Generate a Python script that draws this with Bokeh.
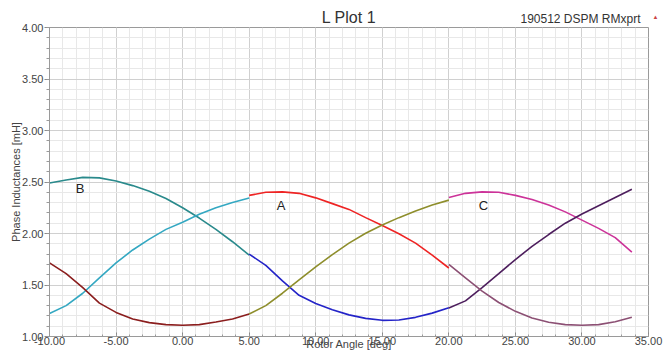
from bokeh.plotting import figure
from bokeh.models import NumeralTickFormatter, Label, Range1d, SingleIntervalTicker
from bokeh.embed import file_html
from bokeh.resources import INLINE

FONT = "Liberation Sans"

# Rotor angle samples for the three electrical segments
angle_seg1 = [-10.0, -8.75, -7.5, -6.25, -5.0, -3.75, -2.5, -1.25, 0.0, 1.25, 2.5, 3.75, 5.0]
angle_seg2 = [5.0, 6.25, 7.5, 8.75, 10.0, 11.25, 12.5, 13.75, 15.0, 16.25, 17.5, 18.75, 20.0]
angle_seg3 = [20.0, 21.25, 22.5, 23.75, 25.0, 26.25, 27.5, 28.75, 30.0, 31.25, 32.5, 33.75]

# Phase inductances [mH], one list per traced segment
teal_seg1 = [2.49, 2.52, 2.545, 2.54, 2.51, 2.465, 2.41, 2.34, 2.25, 2.15, 2.04, 1.92, 1.79]
cyan_seg1 = [1.224, 1.30, 1.42, 1.57, 1.715, 1.84, 1.945, 2.04, 2.11, 2.186, 2.25, 2.30, 2.345]
maroon_seg1 = [1.715, 1.61, 1.475, 1.324, 1.234, 1.17, 1.135, 1.115, 1.109, 1.115, 1.14, 1.17, 1.218]

red_seg2 = [2.37, 2.40, 2.404, 2.39, 2.346, 2.29, 2.234, 2.154, 2.077, 1.997, 1.907, 1.79, 1.665]
blue_seg2 = [1.80, 1.69, 1.54, 1.40, 1.32, 1.26, 1.21, 1.176, 1.157, 1.16, 1.186, 1.227, 1.28]
olive_seg2 = [1.218, 1.30, 1.42, 1.55, 1.676, 1.795, 1.907, 2.003, 2.083, 2.154, 2.218, 2.276, 2.324]

magenta_seg3 = [2.35, 2.39, 2.404, 2.40, 2.37, 2.33, 2.276, 2.21, 2.13, 2.05, 1.96, 1.82]
purple_seg3 = [1.276, 1.346, 1.475, 1.61, 1.747, 1.875, 1.99, 2.10, 2.19, 2.27, 2.35, 2.43]
mauve_seg3 = [1.70, 1.57, 1.44, 1.33, 1.244, 1.18, 1.138, 1.115, 1.109, 1.115, 1.144, 1.186]

# Curve name tags
tag_names = ["B", "A", "C"]
tag_x = [-7.7, 7.4, 22.6]
tag_y = [2.44, 2.275, 2.275]

p = figure(width=665, height=352, output_backend="svg", toolbar_location=None,
           x_range=Range1d(-10, 35), y_range=Range1d(1, 4),
           min_border_left=49, min_border_right=17, min_border_top=27,
           min_border_bottom=12, background_fill_color="white",
           border_fill_color="white")

p.outline_line_color = "#9a9a9a"
p.outline_line_width = 1

xt = SingleIntervalTicker(interval=5, num_minor_ticks=5)
yt = SingleIntervalTicker(interval=0.5, num_minor_ticks=5)
p.xaxis.ticker = xt
p.yaxis.ticker = yt
p.xgrid.ticker = xt
p.ygrid.ticker = yt
for g in (p.xgrid, p.ygrid):
    g.grid_line_color = "#d0d0d0"
    g.grid_line_width = 1
    g.minor_grid_line_color = "#e8e8e8"
    g.minor_grid_line_width = 1

for ax in (p.xaxis, p.yaxis):
    ax.formatter = NumeralTickFormatter(format="0.00")
    ax.axis_line_color = "#9a9a9a"
    ax.major_tick_line_color = "#8a8a8a"
    ax.minor_tick_line_color = "#9a9a9a"
    ax.major_label_text_font = FONT
    ax.major_label_text_font_size = "11px"
    ax.major_label_text_color = "#444444"
    ax.axis_label_text_font = FONT
    ax.axis_label_text_font_size = "11px"
    ax.axis_label_text_font_style = "normal"
    ax.axis_label_text_color = "#444444"

p.xaxis.axis_label = "Rotor Angle [deg]"
p.xaxis.major_tick_in = 4
p.xaxis.major_tick_out = 0
p.xaxis.minor_tick_in = 2
p.xaxis.minor_tick_out = 0
p.xaxis.major_label_standoff = 0
p.xaxis.axis_label_standoff = -10

p.yaxis.axis_label = "Phase Inductances [mH]"
p.yaxis.major_tick_in = 0
p.yaxis.major_tick_out = 5
p.yaxis.minor_tick_in = 0
p.yaxis.minor_tick_out = 3
p.yaxis.major_label_standoff = 1
p.yaxis.axis_label_standoff = -3

LW = 1.6
p.line(angle_seg1, teal_seg1, line_color="#2a8a8c", line_width=LW)
p.line(angle_seg1, cyan_seg1, line_color="#34a8c2", line_width=LW)
p.line(angle_seg1, maroon_seg1, line_color="#8b1e1e", line_width=LW)

p.line(angle_seg2, red_seg2, line_color="#ee2424", line_width=LW)
p.line(angle_seg2, blue_seg2, line_color="#2424c8", line_width=LW)
p.line(angle_seg2, olive_seg2, line_color="#8e8e2c", line_width=LW)

p.line(angle_seg3, magenta_seg3, line_color="#cc3399", line_width=LW)
p.line(angle_seg3, purple_seg3, line_color="#4e1f5e", line_width=LW)
p.line(angle_seg3, mauve_seg3, line_color="#8c5074", line_width=LW)

for name, tx, ty in zip(tag_names, tag_x, tag_y):
    p.add_layout(Label(x=tx, y=ty, text=name, text_font=FONT,
                       text_font_size="13px", text_color="#222222",
                       text_align="center", text_baseline="middle"))

# Top border: marker and design tag sit in their own panels (stacked upward
# from the frame), offsets are in pixels from each panel's bottom-left corner
p.add_layout(Label(x=606, y=11, x_units="screen", y_units="screen",
                   text="\u25b2", text_font=FONT,
                   text_font_size="6px", text_color="#cc4444",
                   text_align="center", text_baseline="middle"), "above")
p.add_layout(Label(x=591, y=3, x_units="screen", y_units="screen",
                   text="190512 DSPM RMxprt", text_font=FONT,
                   text_font_size="12px", text_color="#333333",
                   text_align="right", text_baseline="middle"), "above")

# Title is outermost; the negative standoff pulls it down beside the tag
p.title.text = "L Plot 1"
p.title.align = "center"
p.title.text_font = FONT
p.title.text_font_size = "16px"
p.title.text_font_style = "normal"
p.title.text_color = "#333333"
p.title.standoff = -36

open("out.html", "w").write(file_html(p, INLINE))
